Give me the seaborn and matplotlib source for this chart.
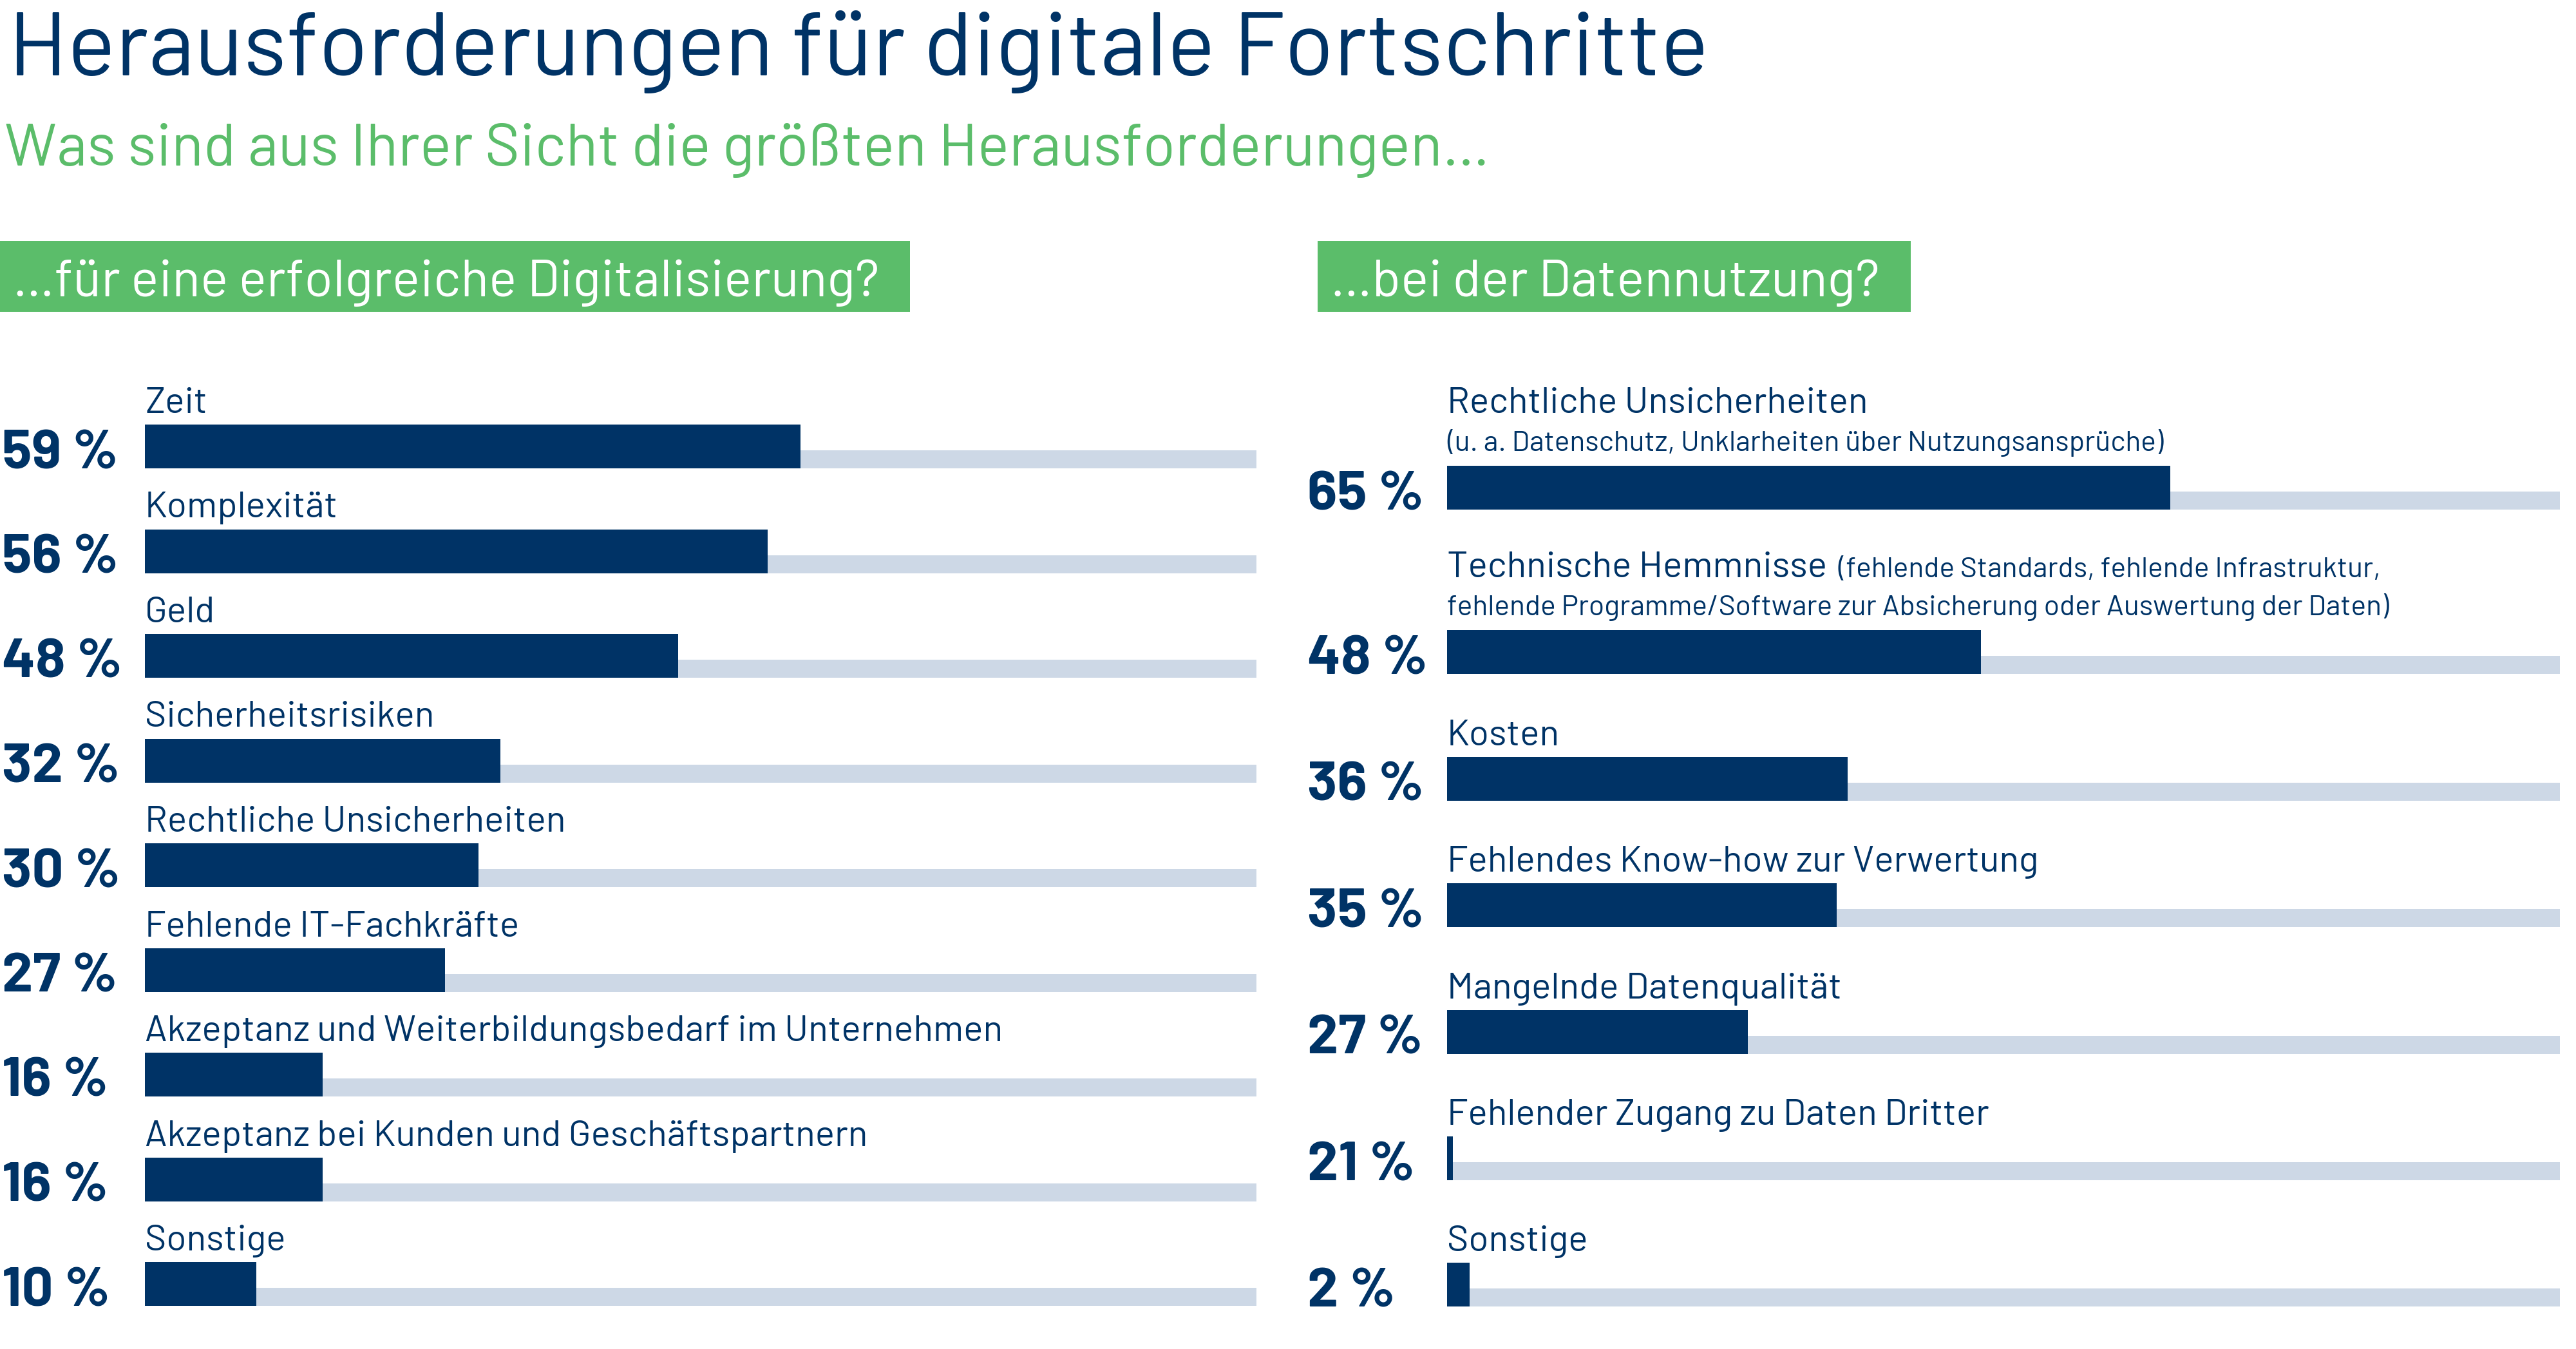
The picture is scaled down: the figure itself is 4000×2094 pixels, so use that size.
import numpy as np
import pandas as pd
import matplotlib
matplotlib.use("Agg")
import matplotlib.pyplot as plt
import matplotlib.font_manager as fm
import matplotlib.transforms as mtransforms
from matplotlib.patches import Rectangle
import seaborn as sns

# ---- data ----
title = "Herausforderungen für digitale Fortschritte"
subtitle = "Was sind aus Ihrer Sicht die größten Herausforderungen…"
left_head = "…für eine erfolgreiche Digitalisierung?"
right_head = "…bei der Datennutzung?"

left_labels = ["Zeit", "Komplexität", "Geld", "Sicherheitsrisiken",
               "Rechtliche Unsicherheiten", "Fehlende IT-Fachkräfte",
               "Akzeptanz und Weiterbildungsbedarf im Unternehmen",
               "Akzeptanz bei Kunden und Geschäftspartnern", "Sonstige"]
left_values = [59, 56, 48, 32, 30, 27, 16, 16, 10]

right_labels = ["Rechtliche Unsicherheiten", "Technische Hemmnisse", "Kosten",
                "Fehlendes Know-how zur Verwertung", "Mangelnde Datenqualität",
                "Fehlender Zugang zu Daten Dritter", "Sonstige"]
# small print: first item goes on the label line, the rest on lines below
right_notes = [["", "(u. a. Datenschutz, Unklarheiten über Nutzungsansprüche)"],
               ["  (fehlende Standards, fehlende Infrastruktur,",
                "fehlende Programme/Software zur Absicherung oder Auswertung der Daten)"],
               [], [], [], [], []]
right_values = [65, 48, 36, 35, 27, 21, 2]
# bar lengths as they are drawn in the original (21 % is only a sliver there)
right_bars = [65, 48, 36, 35, 27, 0.5, 2]

# ---- style ----
NAVY = "#003366"
TRACK = "#cdd8e6"
GREEN = "#5bbd6a"

sns.set_theme(style="white")
avail = {f.name for f in fm.fontManager.ttflist}
FONT = "DejaVu Sans"
for cand in ["Barlow", "Roboto Condensed", "Liberation Sans Narrow"]:
    if cand in avail:
        FONT = cand
        break
plt.rcParams["font.family"] = [FONT, "DejaVu Sans"]

W, H = 4000, 2094
fig = plt.figure(figsize=(W / 100, H / 100), dpi=100)

BAR_H = 68
TRACK_H = 28
LAB_FS = 41
PCT_FS = 62
NOTE_FS = 32


def panel(x0, x1, tops, labels, values, bars, pct_x, notes=None):
    ax = fig.add_axes([x0 / W, 0, (x1 - x0) / W, 1])
    tops = np.array(tops, dtype=float)
    step = np.min(np.diff(tops))
    track = pd.DataFrame({"pos": tops + BAR_H - TRACK_H / 2, "value": 100})
    bar = pd.DataFrame({"pos": tops + BAR_H / 2, "value": bars})
    sns.barplot(data=track, x="value", y="pos", orient="y", native_scale=True,
                width=TRACK_H / step, color=TRACK, saturation=1, linewidth=0,
                errorbar=None, ax=ax)
    sns.barplot(data=bar, x="value", y="pos", orient="y", native_scale=True,
                width=BAR_H / step, color=NAVY, saturation=1, linewidth=0,
                errorbar=None, ax=ax)
    ax.set_xlim(0, 100)
    ax.set_ylim(H, 0)
    ax.axis("off")

    trans = mtransforms.blended_transform_factory(fig.transFigure, ax.transData)
    for i, (lab, v) in enumerate(zip(labels, values)):
        extra = notes[i][1:] if notes and notes[i] else []
        base = tops[i] - 18 if not extra else tops[i] - 23 - 59 * len(extra)
        t = ax.text(0, base, lab, fontsize=LAB_FS, color=NAVY, va="baseline", ha="left")
        ax.text(pct_x / W, tops[i] + BAR_H, f"{v}\u2009%", transform=trans, fontsize=PCT_FS,
                fontweight="bold", color=NAVY, va="baseline", ha="left")
        if notes and notes[i]:
            if notes[i][0]:
                fig.canvas.draw()
                bb = t.get_window_extent(fig.canvas.get_renderer())
                xe = ax.transData.inverted().transform((bb.x1, 0))[0]
                ax.text(xe, base, notes[i][0], fontsize=NOTE_FS, color=NAVY, va="baseline")
            for k, line in enumerate(extra):
                ax.text(0, base + 59 * (k + 1), line, fontsize=NOTE_FS, color=NAVY,
                        va="baseline")
    return ax


# left panel: even rows
left_tops = 659 + 162.5 * np.arange(len(left_labels))
panel(225, 1951, left_tops, left_labels, left_values, left_values, 3)

# right panel: rows grow by the extra lines of small print
right_tops = [723.0]
for n in right_notes[1:]:
    right_tops.append(right_tops[-1] + 196.4 + 59 * max(len(n) - 1, 0))
panel(2247, 3975, right_tops, right_labels, right_values, right_bars, 2030, right_notes)

# headings
fig.text(13 / W, 1 - 117 / H, title, fontsize=101, color=NAVY, va="baseline")
fig.text(7 / W, 1 - 257 / H, subtitle, fontsize=66.5, color=GREEN, va="baseline")
for (bx0, bx1, txt) in [(0, 1413, left_head), (2046, 2967, right_head)]:
    fig.patches.append(Rectangle((bx0 / W, 1 - 484 / H), (bx1 - bx0) / W, 110 / H,
                                 transform=fig.transFigure, color=GREEN, lw=0))
    fig.text((bx0 + 20) / W, 1 - 460 / H, txt, fontsize=58.5, color="white", va="baseline")

fig.savefig("out.png", dpi=100)
